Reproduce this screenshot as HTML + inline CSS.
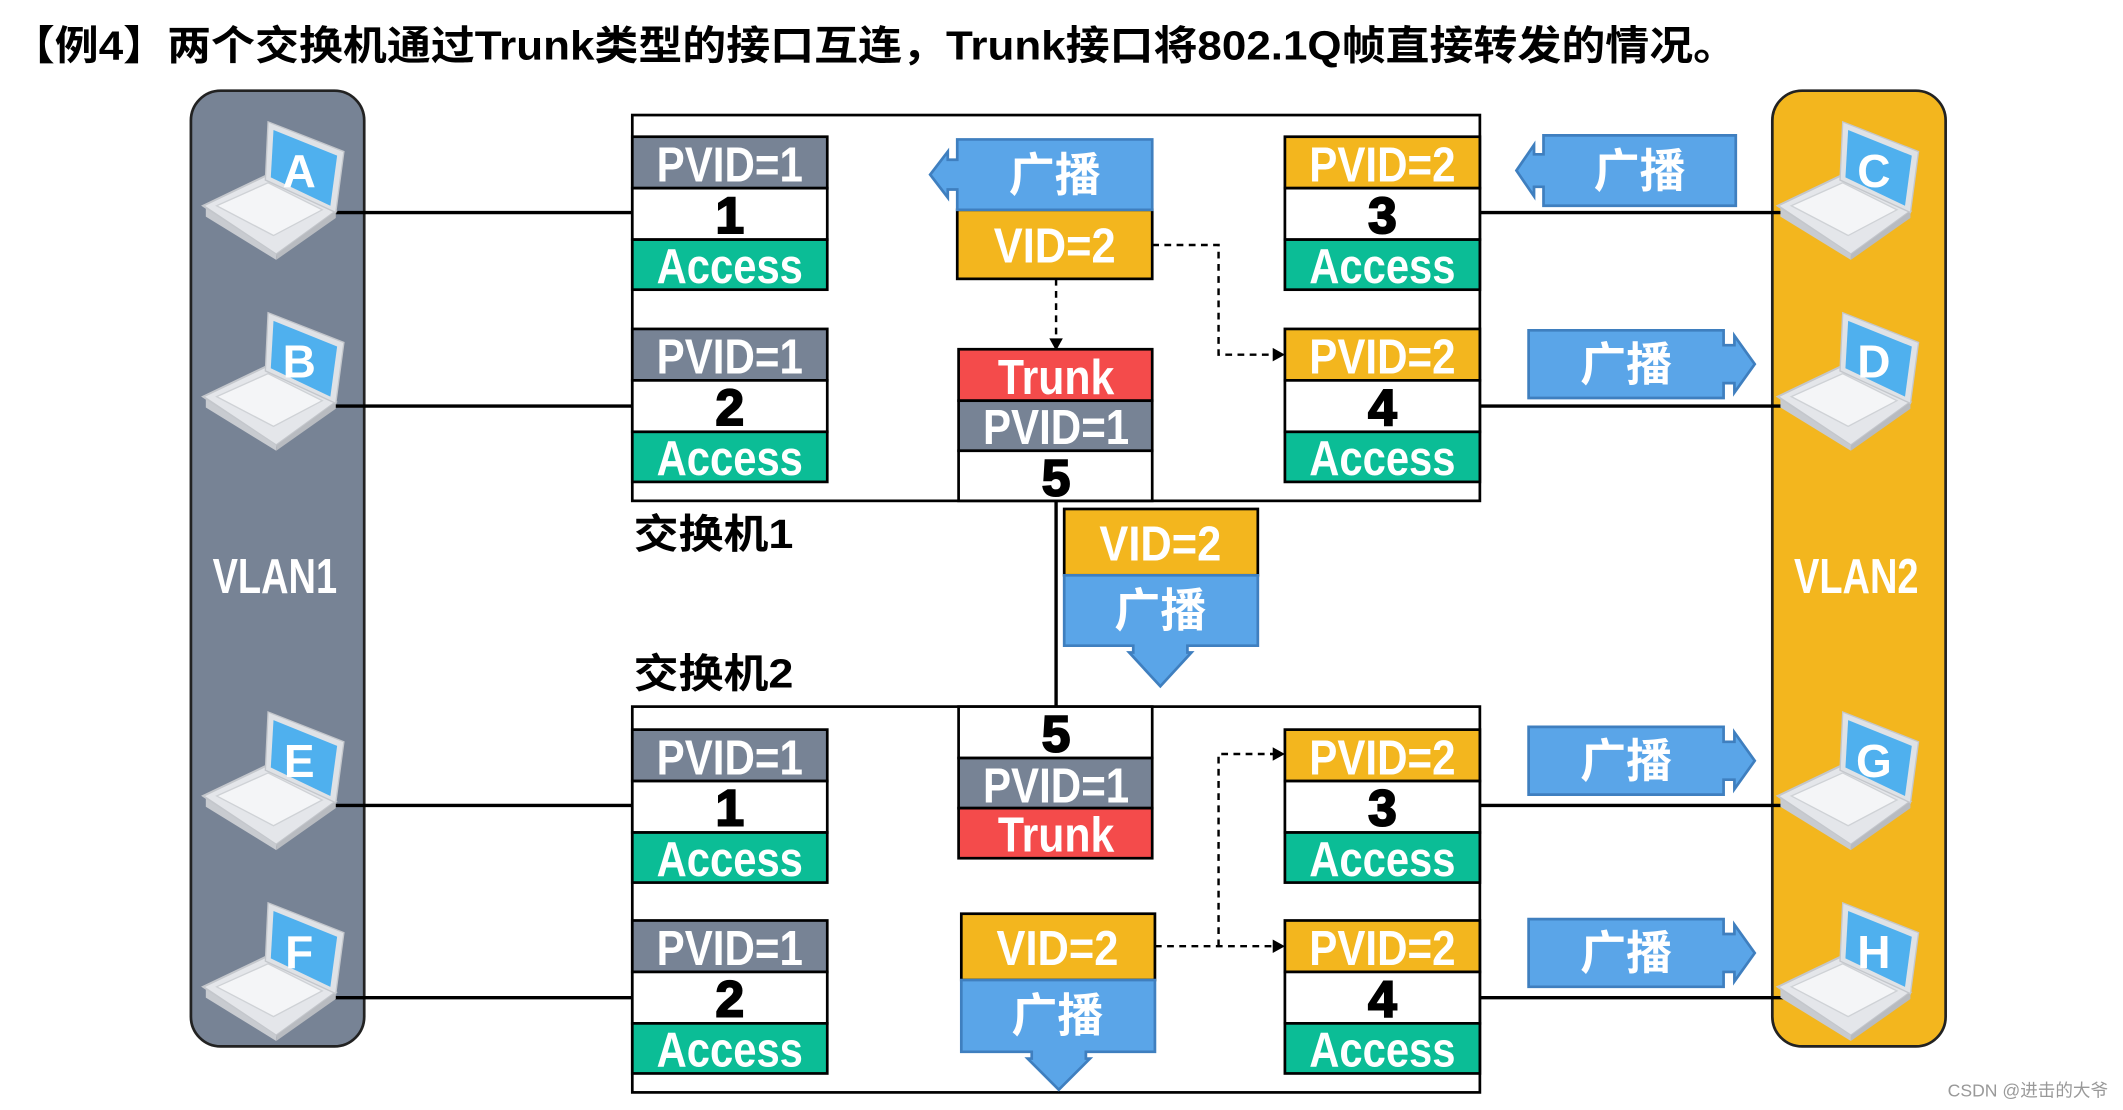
<!DOCTYPE html>
<html><head><meta charset="utf-8"><style>
html,body{margin:0;padding:0;background:#fff;overflow:hidden}
svg{display:block}
.w{fill:#fff;font-family:"Liberation Sans Narrow","Liberation Sans",sans-serif;font-weight:bold;font-size:36px;text-anchor:middle}
.n{fill:#000;stroke:#000;stroke-width:1.5;font-family:"Liberation Sans",sans-serif;font-weight:900;font-size:38px;text-anchor:middle}
.c{fill:#fff;font-family:"Liberation Sans","Noto Sans CJK SC",sans-serif;font-weight:bold;font-size:34px;text-anchor:middle}
.k{fill:#000;font-family:"Liberation Sans","Noto Sans CJK SC",sans-serif;font-weight:bold;font-size:30px}
.L{fill:#fff;font-family:"Liberation Sans",sans-serif;font-weight:bold;font-size:34px;text-anchor:middle}
</style></head><body>
<svg width="2123" height="1110" viewBox="0 0 1568 820" preserveAspectRatio="none" xmlns="http://www.w3.org/2000/svg">
<defs>
<g id="lap">
<polygon points="150,152 196,130 248,156 204,188" fill="#e4e6ea" stroke="#c4c7cc" stroke-width="1.5"/>
<polygon points="160,152 198,135 238,155 202,174" fill="#f4f5f7" stroke="#cfd2d6"/>
<polygon points="152,154 204,188 204,192 152,160" fill="#c8cbd0"/>
<polygon points="204,188 248,156 248,161 204,192" fill="#b8bbc0"/>
<polygon points="198,90 254,112 248,157 196,133" fill="#dfe2e6" stroke="#c4c7cc"/>
<polygon points="202,96 249,115 244,152 200,131" fill="#4fb0ee"/>
</g>
</defs>
<text x="8" y="44" class="k" font-size="32" textLength="1275" lengthAdjust="spacingAndGlyphs">【例4】两个交换机通过Trunk类型的接口互连，Trunk接口将802.1Q帧直接转发的情况。</text>

<rect x="141" y="67" width="128" height="706" rx="22" fill="#778395" stroke="#222" stroke-width="2"/>
<rect x="1309" y="67" width="128" height="706" rx="22" fill="#f3b61e" stroke="#222" stroke-width="2"/>
<text x="203" y="438" class="w" font-size="32" textLength="92" lengthAdjust="spacingAndGlyphs">VLAN1</text>
<text x="1371" y="438" class="w" font-size="32" textLength="92" lengthAdjust="spacingAndGlyphs">VLAN2</text>

<g stroke="#000" stroke-width="2.5">
<line x1="245" y1="157" x2="467" y2="157"/><line x1="242" y1="300" x2="467" y2="300"/>
<line x1="245" y1="595" x2="467" y2="595"/><line x1="242" y1="737" x2="467" y2="737"/>
<line x1="1093" y1="157" x2="1330" y2="157"/><line x1="1093" y1="300" x2="1330" y2="300"/>
<line x1="1093" y1="595" x2="1330" y2="595"/><line x1="1093" y1="737" x2="1330" y2="737"/>
<line x1="780" y1="370" x2="780" y2="522"/>
</g>

<use href="#lap"/><text x="221" y="138" class="L">A</text>
<use href="#lap" transform="translate(0,141)"/><text x="221" y="279" class="L">B</text>
<use href="#lap" transform="translate(0,436)"/><text x="221" y="574" class="L">E</text>
<use href="#lap" transform="translate(0,577)"/><text x="221" y="715" class="L">F</text>
<use href="#lap" transform="translate(1163,0)"/><text x="1384" y="138" class="L">C</text>
<use href="#lap" transform="translate(1163,141)"/><text x="1384" y="279" class="L">D</text>
<use href="#lap" transform="translate(1163,436)"/><text x="1384" y="574" class="L">G</text>
<use href="#lap" transform="translate(1163,577)"/><text x="1384" y="715" class="L">H</text>

<rect x="467" y="85" width="626" height="285" fill="none" stroke="#000" stroke-width="2"/>
<rect x="467" y="522" width="626" height="285" fill="none" stroke="#000" stroke-width="2"/>
<text x="468" y="405" class="k" textLength="118" lengthAdjust="spacingAndGlyphs">交换机1</text>
<text x="468" y="508" class="k" textLength="118" lengthAdjust="spacingAndGlyphs">交换机2</text>

<g stroke="#000" stroke-width="2">
<rect x="467" y="101" width="144" height="38" fill="#778395"/><rect x="467" y="139" width="144" height="38" fill="#fff"/><rect x="467" y="177" width="144" height="37" fill="#0bbd96"/>
<rect x="467" y="243" width="144" height="38" fill="#778395"/><rect x="467" y="281" width="144" height="38" fill="#fff"/><rect x="467" y="319" width="144" height="37" fill="#0bbd96"/>
<rect x="949" y="101" width="144" height="38" fill="#f3b61e"/><rect x="949" y="139" width="144" height="38" fill="#fff"/><rect x="949" y="177" width="144" height="37" fill="#0bbd96"/>
<rect x="949" y="243" width="144" height="38" fill="#f3b61e"/><rect x="949" y="281" width="144" height="38" fill="#fff"/><rect x="949" y="319" width="144" height="37" fill="#0bbd96"/>
<rect x="467" y="539" width="144" height="38" fill="#778395"/><rect x="467" y="577" width="144" height="38" fill="#fff"/><rect x="467" y="615" width="144" height="37" fill="#0bbd96"/>
<rect x="467" y="680" width="144" height="38" fill="#778395"/><rect x="467" y="718" width="144" height="38" fill="#fff"/><rect x="467" y="756" width="144" height="37" fill="#0bbd96"/>
<rect x="949" y="539" width="144" height="38" fill="#f3b61e"/><rect x="949" y="577" width="144" height="38" fill="#fff"/><rect x="949" y="615" width="144" height="37" fill="#0bbd96"/>
<rect x="949" y="680" width="144" height="38" fill="#f3b61e"/><rect x="949" y="718" width="144" height="38" fill="#fff"/><rect x="949" y="756" width="144" height="37" fill="#0bbd96"/>
<rect x="708" y="258" width="143" height="38" fill="#f44b4b"/><rect x="708" y="296" width="143" height="37" fill="#778395"/><rect x="708" y="333" width="143" height="37" fill="#fff"/>
<rect x="708" y="522" width="143" height="38" fill="#fff"/><rect x="708" y="560" width="143" height="37" fill="#778395"/><rect x="708" y="597" width="143" height="37" fill="#f44b4b"/>
<rect x="707" y="155" width="144" height="51" fill="#f3b61e"/>
<rect x="786" y="376" width="143" height="49" fill="#f3b61e"/>
<rect x="710" y="675" width="143" height="49" fill="#f3b61e"/>
</g>

<g class="w" lengthAdjust="spacingAndGlyphs">
<text x="539" y="134" textLength="108" lengthAdjust="spacingAndGlyphs">PVID=1</text><text x="539" y="209" textLength="108" lengthAdjust="spacingAndGlyphs">Access</text>
<text x="539" y="276" textLength="108" lengthAdjust="spacingAndGlyphs">PVID=1</text><text x="539" y="351" textLength="108" lengthAdjust="spacingAndGlyphs">Access</text>
<text x="1021" y="134" textLength="108" lengthAdjust="spacingAndGlyphs">PVID=2</text><text x="1021" y="209" textLength="108" lengthAdjust="spacingAndGlyphs">Access</text>
<text x="1021" y="276" textLength="108" lengthAdjust="spacingAndGlyphs">PVID=2</text><text x="1021" y="351" textLength="108" lengthAdjust="spacingAndGlyphs">Access</text>
<text x="539" y="572" textLength="108" lengthAdjust="spacingAndGlyphs">PVID=1</text><text x="539" y="647" textLength="108" lengthAdjust="spacingAndGlyphs">Access</text>
<text x="539" y="713" textLength="108" lengthAdjust="spacingAndGlyphs">PVID=1</text><text x="539" y="788" textLength="108" lengthAdjust="spacingAndGlyphs">Access</text>
<text x="1021" y="572" textLength="108" lengthAdjust="spacingAndGlyphs">PVID=2</text><text x="1021" y="647" textLength="108" lengthAdjust="spacingAndGlyphs">Access</text>
<text x="1021" y="713" textLength="108" lengthAdjust="spacingAndGlyphs">PVID=2</text><text x="1021" y="788" textLength="108" lengthAdjust="spacingAndGlyphs">Access</text>
<text x="780" y="291" textLength="86" lengthAdjust="spacingAndGlyphs">Trunk</text><text x="780" y="328" textLength="108" lengthAdjust="spacingAndGlyphs">PVID=1</text>
<text x="780" y="593" textLength="108" lengthAdjust="spacingAndGlyphs">PVID=1</text><text x="780" y="629" textLength="86" lengthAdjust="spacingAndGlyphs">Trunk</text>
<text x="779" y="194" textLength="90" lengthAdjust="spacingAndGlyphs">VID=2</text><text x="857" y="414" textLength="90" lengthAdjust="spacingAndGlyphs">VID=2</text><text x="781" y="713" textLength="90" lengthAdjust="spacingAndGlyphs">VID=2</text>
</g>
<g class="n">
<text x="539" y="172">1</text><text x="539" y="314">2</text>
<text x="1021" y="172">3</text><text x="1021" y="314">4</text>
<text x="539" y="610">1</text><text x="539" y="751">2</text>
<text x="1021" y="610">3</text><text x="1021" y="751">4</text>
<text x="780" y="366">5</text><text x="780" y="555">5</text>
</g>

<g fill="#5aa5e8" stroke="#3f7fbf" stroke-width="2">
<polygon points="707,103 851,103 851,155 707,155 707,140 700,140 700,146 687,129 700,112 700,118 707,118"/>
<polygon points="786,425 929,425 929,477 877,477 877,482 880,482 857,507 834,482 837,482 837,477 786,477"/>
<polygon points="710,724 853,724 853,777 802,777 802,782 805,782 782,805 759,782 762,782 762,777 710,777"/>
<polygon points="1140,100 1282,100 1282,152 1140,152 1140,138 1133,138 1133,145 1120,126 1133,107 1133,114 1140,114"/>
<polygon points="1129,244 1273,244 1273,255 1281,255 1281,248 1296,269 1281,290 1281,283 1273,283 1273,294 1129,294"/>
<polygon points="1129,537 1273,537 1273,548 1281,548 1281,541 1296,562 1281,583 1281,576 1273,576 1273,587 1129,587"/>
<polygon points="1129,679 1273,679 1273,690 1281,690 1281,683 1296,704 1281,725 1281,718 1273,718 1273,729 1129,729"/>
</g>
<g class="c">
<text x="779" y="141">广播</text>
<text x="857" y="463">广播</text>
<text x="781" y="762">广播</text>
<text x="1211" y="138">广播</text>
<text x="1201" y="281">广播</text>
<text x="1201" y="574">广播</text>
<text x="1201" y="716">广播</text>
</g>

<g stroke="#000" stroke-width="1.8" stroke-dasharray="5,4" fill="none">
<polyline points="780,206 780,252"/>
<polyline points="851,181 900,181 900,262 942,262"/>
<polyline points="853,699 942,699"/>
<polyline points="900,699 900,557 942,557"/>
</g>
<g fill="#000">
<polygon points="775,250 785,250 780,259"/>
<polygon points="940,257 949,262 940,267"/>
<polygon points="940,694 949,699 940,704"/>
<polygon points="940,552 949,557 940,562"/>
</g>

<text x="1557" y="810" text-anchor="end" fill="#999" font-family="Liberation Sans,'Noto Sans CJK SC',sans-serif" font-size="13">CSDN @进击的大爷</text>
</svg>
</body></html>
